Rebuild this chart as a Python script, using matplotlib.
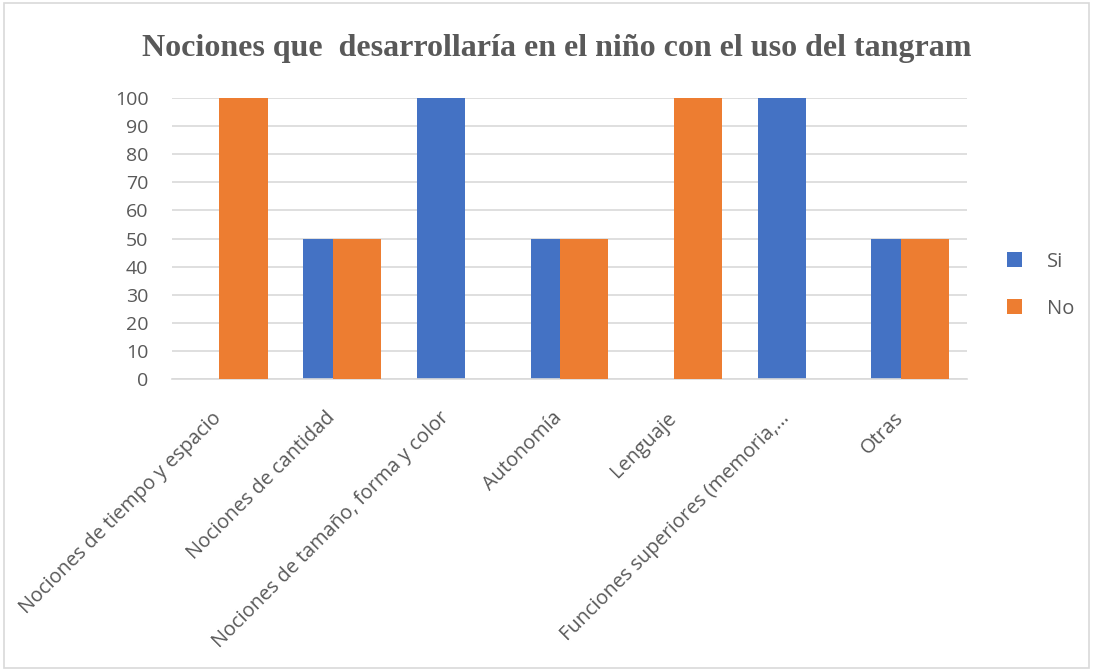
import matplotlib
matplotlib.use("Agg")
import matplotlib.pyplot as plt
import matplotlib.transforms as mtransforms
import numpy as np
from matplotlib.patches import Rectangle

categories = [
    "Nociones de tiempo y espacio",
    "Nociones de cantidad",
    "Nociones de tamaño, forma y color",
    "Autonomía",
    "Lenguaje",
    "Funciones superiores (memoria,...",
    "Otras",
]
si_values = [0, 50, 100, 50, 0, 100, 50]
no_values = [100, 50, 0, 50, 100, 0, 50]
y_ticks = [0, 10, 20, 30, 40, 50, 60, 70, 80, 90, 100]
title = "Nociones que  desarrollaría en el niño con el uso del tangram"

BLUE = "#4472C4"
ORANGE = "#ED7D31"
TEXT = "#595959"
GRID = "#D9D9D9"

fig = plt.figure(figsize=(10.93, 6.71), dpi=100)
ax = fig.add_axes([0.1574, 0.4352, 0.7273, 0.4187])

x = np.arange(len(categories))
width = 0.425
offset = 0.13
ax.bar(x - offset, si_values, width, color=BLUE, label="Si", zorder=2)
ax.bar(x + offset, no_values, width, color=ORANGE, label="No", zorder=3)

ax.set_xlim(-0.5, len(categories) - 0.5)
ax.set_ylim(0, 100)
ax.set_yticks(y_ticks)
ax.set_yticklabels([str(v) for v in y_ticks], fontsize=14, color=TEXT,
                   family="Open Sans")
ax.yaxis.grid(True, color=GRID, linewidth=1.2, zorder=0)
ax.set_axisbelow(True)
ax.tick_params(axis="y", length=0, pad=17)
ax.tick_params(axis="x", length=0, pad=26)
ax.set_xticks(x)
ax.set_xticklabels(categories, rotation=45, ha="right", va="center",
                   rotation_mode="anchor", fontsize=14.3, color=TEXT,
                   family="Open Sans")
shift = mtransforms.ScaledTranslation(-10 / 100, 0, fig.dpi_scale_trans)
for lbl in ax.get_xticklabels():
    lbl.set_transform(lbl.get_transform() + shift)
for s in ["top", "right", "left"]:
    ax.spines[s].set_visible(False)
ax.spines["bottom"].set_color(GRID)
ax.spines["bottom"].set_linewidth(1.2)

fig.text(0.509, 0.927, title, ha="center", va="center", fontsize=23,
         fontweight="bold", color=TEXT, family="Liberation Serif")

leg = fig.legend(loc="center left", bbox_to_anchor=(0.905, 0.575),
                 frameon=False, handlelength=0.75,
                 handleheight=0.75, handletextpad=1.2, labelspacing=1.35,
                 prop={"family": "Open Sans", "size": 14.5})
for t in leg.get_texts():
    t.set_color(TEXT)

fig.patches.append(Rectangle((0.004, 0.004), 0.992, 0.992,
                             transform=fig.transFigure, fill=False,
                             edgecolor=GRID, linewidth=1.2))

fig.savefig("out.png", dpi=100, facecolor="white")
